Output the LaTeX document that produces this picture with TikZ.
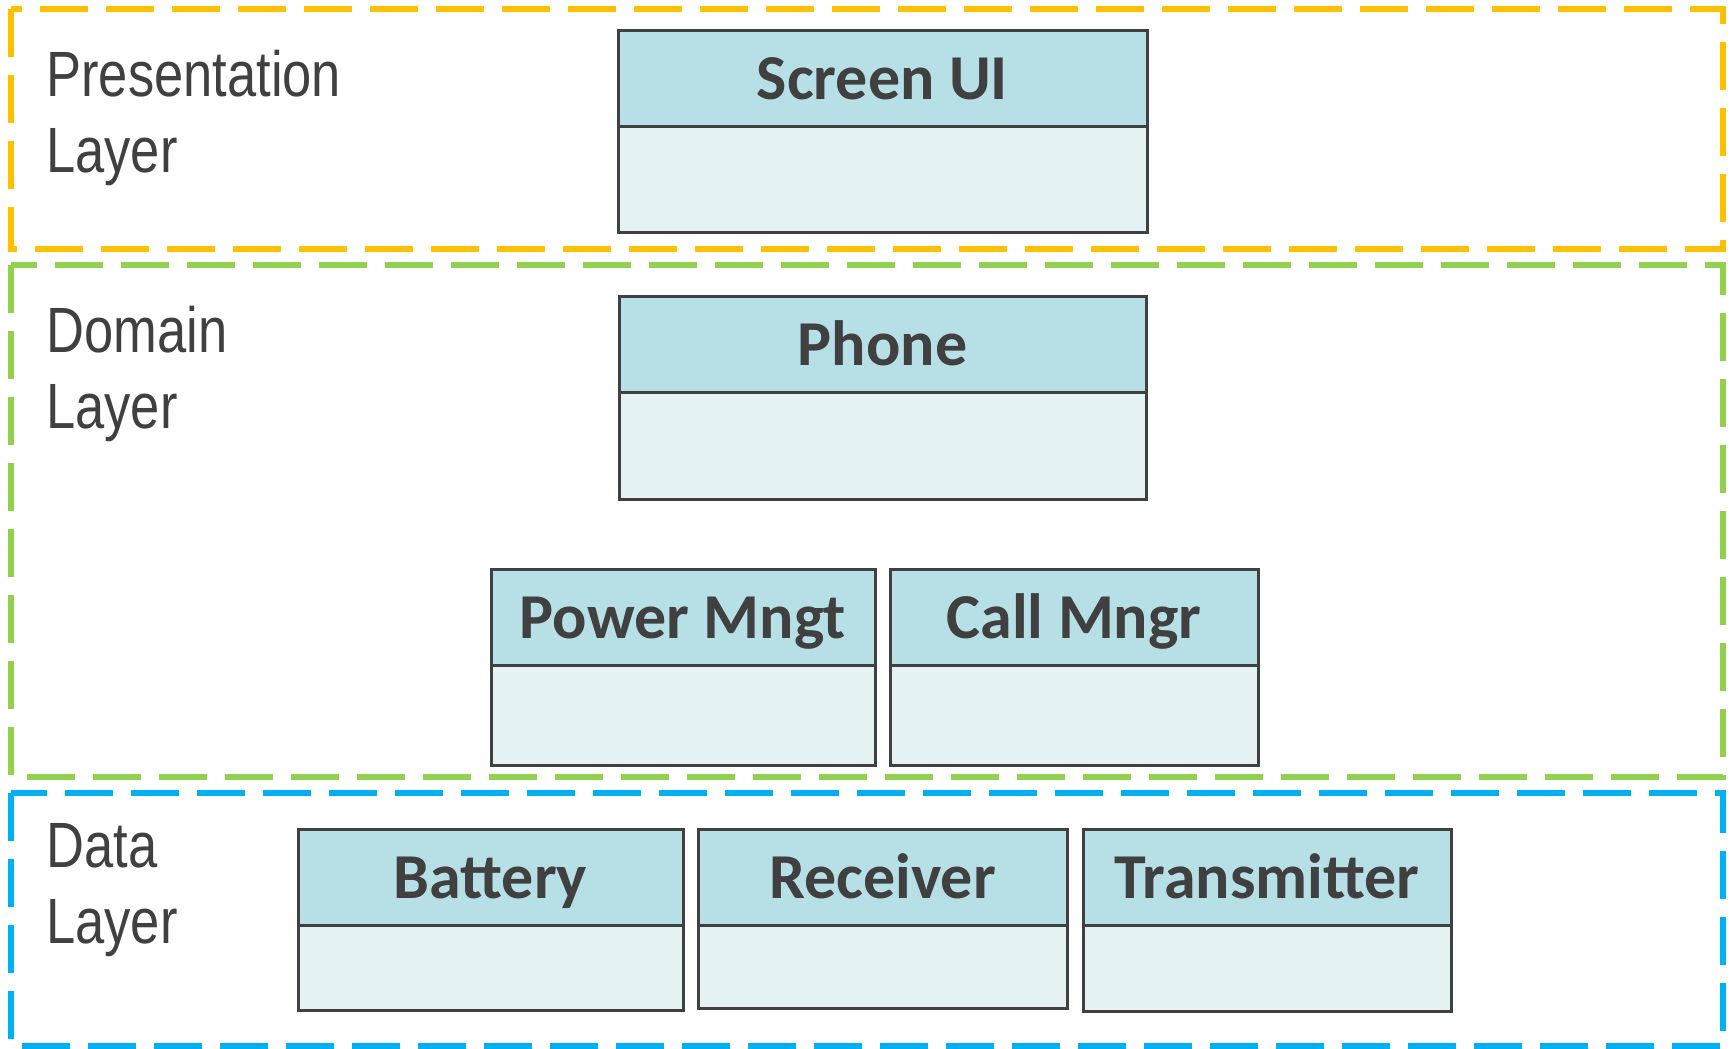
\documentclass[tikz,border=0pt]{standalone}
\usepackage{fontspec}
\setmainfont[FakeStretch=0.82]{Liberation Sans}
\newfontfamily\titlefont{Carlito}
\usetikzlibrary{positioning}
\definecolor{txtgray}{HTML}{404040}
\definecolor{headfill}{HTML}{B7E0E6}
\definecolor{bodyfill}{HTML}{E4F2F3}
\definecolor{presorange}{HTML}{FFC000}
\definecolor{domgreen}{HTML}{92D050}
\definecolor{datablue}{HTML}{00B0F0}
\begin{document}
\begin{tikzpicture}[x=0.5pt,y=-0.5pt,
  layer/.style={line width=3pt,dash pattern=on 24pt off 9pt},
  layername/.style={anchor=north west,inner sep=0pt,align=left,text=txtgray,font=\fontsize{32}{38}\selectfont},
  classhead/.style={draw=txtgray,line width=1.5pt,fill=headfill,anchor=north west,inner sep=0pt,outer sep=0pt,
    minimum height=48pt,text=txtgray,font=\titlefont\bfseries\fontsize{32}{38}\selectfont,text height=21pt,text depth=0pt},
  classbody/.style={draw=txtgray,line width=1.5pt,fill=bodyfill,anchor=north west,inner sep=0pt,outer sep=0pt}]
  \useasboundingbox (0,0) rectangle (1731,1049);
  % layers
  \draw[layer,presorange] (11,8.5) rectangle (1723,249);
  \draw[layer,domgreen] (11,265) rectangle (1723,777);
  \draw[layer,datablue] (11,793) rectangle (1723,1046);
  \node[layername] (preslabel) at (46,50) {Presentation\\Layer};
  \node[layername] (domlabel) at (46,306) {Domain\\Layer};
  \node[layername] (datalabel) at (46,823) {Data\\Layer};
  % classes
  \foreach \n/\x/\y/\w/\h/\t in {screenui/618/30/529/106/Screen UI, phone/619/296/527/107/Phone,
      power/491/569/384/100/Power Mngt, call/890/569/368/100/Call Mngr,
      battery/298/829/385/85/Battery, receiver/698/829/369/83/Receiver, transmitter/1083/829/368/86/Transmitter}{
    \node[classhead,minimum width=\w*0.5pt] (\n) at (\x,\y) {\t};
    \node[classbody,minimum width=\w*0.5pt,minimum height=\h*0.5pt] (\n-body) at (\n.south west) {};
  }
\end{tikzpicture}
\end{document}
